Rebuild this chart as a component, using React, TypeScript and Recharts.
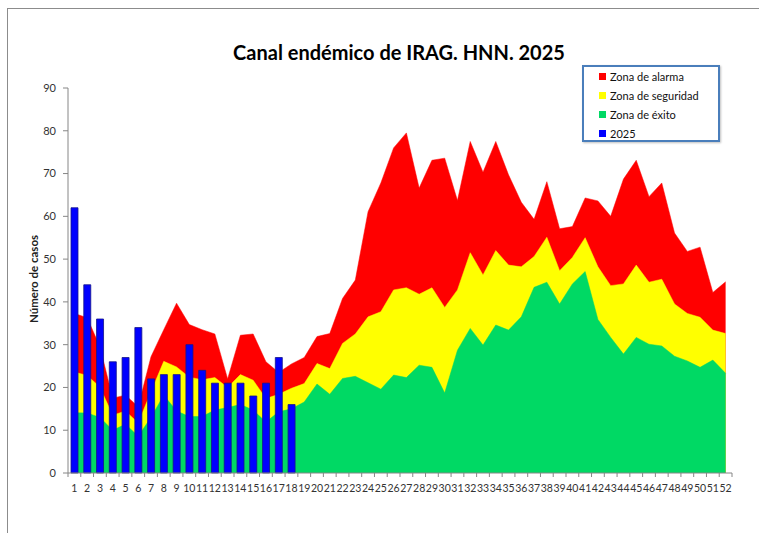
import { ComposedChart, Area, Bar, XAxis, YAxis } from 'recharts';

const semanas = [
  '1', '2', '3', '4', '5', '6', '7', '8', '9', '10', '11', '12', '13',
  '14', '15', '16', '17', '18', '19', '20', '21', '22', '23', '24', '25', '26',
  '27', '28', '29', '30', '31', '32', '33', '34', '35', '36', '37', '38', '39',
  '40', '41', '42', '43', '44', '45', '46', '47', '48', '49', '50', '51', '52',
];

// límite superior de cada zona (las áreas se superponen, no se apilan)
const alarma = [
  37.3, 36.3, 29.5, 17.5, 18.2, 15.5, 27.2, 33.5, 39.7, 34.7, 33.5, 32.5, 22.0,
  32.2, 32.5, 26.0, 23.5, 25.5, 27.0, 31.9, 32.6, 40.8, 45.1, 61.1, 67.8, 76.0,
  79.5, 66.6, 73.1, 73.6, 63.7, 77.5, 70.3, 77.5, 69.7, 63.3, 59.3, 68.1, 57.1,
  57.6, 64.3, 63.6, 60.0, 68.7, 73.1, 64.6, 67.8, 56.1, 51.8, 52.8, 42.2, 44.7,
];
const seguridad = [
  23.6, 22.8, 20.1, 13.5, 14.5, 11.7, 19.0, 26.1, 24.8, 22.4, 21.8, 22.3, 20.0,
  23.0, 21.7, 17.4, 18.4, 19.8, 20.9, 25.6, 24.4, 30.3, 32.5, 36.5, 37.7, 42.8,
  43.3, 41.8, 43.3, 38.7, 42.8, 51.5, 46.3, 52.0, 48.6, 48.2, 50.6, 55.1, 47.3,
  50.4, 55.0, 48.2, 43.8, 44.2, 48.6, 44.6, 45.3, 39.5, 37.3, 36.4, 33.4, 32.6,
];
const exito = [
  14.1, 14.0, 13.0, 10.0, 11.4, 8.6, 13.0, 18.2, 14.5, 13.2, 13.2, 14.7, 15.3,
  16.0, 14.7, 11.9, 14.3, 15.0, 16.6, 20.8, 18.4, 22.1, 22.6, 21.1, 19.6, 22.9,
  22.3, 25.2, 24.7, 18.7, 28.7, 33.8, 29.9, 34.6, 33.4, 36.5, 43.4, 44.6, 39.5,
  44.2, 47.1, 35.9, 31.7, 27.8, 31.7, 30.1, 29.7, 27.3, 26.2, 24.7, 26.4, 23.3,
];
const casos2025 = [62, 44, 36, 26, 27, 34, 22, 23, 23, 30, 24, 21, 21, 21, 18, 21, 27, 16];

const yTicks = [0, 10, 20, 30, 40, 50, 60, 70, 80, 90];

const data = semanas.map((s, i) => ({
  semana: s,
  alarma: alarma[i],
  seguridad: seguridad[i],
  exito: exito[i],
  casos: casos2025[i],
}));

const W = 759;
const H = 533;
const margin = { top: 88, right: 27, left: 0, bottom: 30 };
const Y_W = 68;
const BAND = (W - margin.left - margin.right - Y_W) / semanas.length;
const AXIS = '#868686';
const FONT = 'Lato, "Open Sans", sans-serif';

const XTick = (props: any) => {
  const { x, y, payload, index } = props;
  const half = BAND / 2;
  return (
    <g>
      {index === 0 && <line x1={x - half} x2={x - half} y1={y} y2={y + 4} stroke={AXIS} />}
      <line x1={x + half} x2={x + half} y1={y} y2={y + 4} stroke={AXIS} />
      <text x={x} y={y + 12} dy="0.71em" textAnchor="middle" fontSize={10.5} fill="#333">
        {payload.value}
      </text>
    </g>
  );
};

const legendItems = [
  { label: 'Zona de alarma', color: '#ff0000' },
  { label: 'Zona de seguridad', color: '#ffff00' },
  { label: 'Zona de éxito', color: '#00d964' },
  { label: '2025', color: '#0000ff' },
];

export default function App() {
  return (
    <div
      style={{
        position: 'absolute',
        left: 0,
        top: 0,
        width: W,
        height: H,
        overflow: 'hidden',
        background: '#fff',
        fontFamily: FONT,
      }}
    >
      <div
        style={{
          position: 'absolute',
          left: 7,
          top: 8,
          width: 780,
          height: 560,
          border: '1.5px solid #8c8c8c',
        }}
      />
      <div
        style={{
          position: 'absolute',
          left: 199,
          top: 41,
          width: 400,
          textAlign: 'center',
          fontSize: 20,
          lineHeight: '23px',
          fontWeight: 700,
          color: '#000',
        }}
      >
        Canal endémico de IRAG. HNN. 2025
      </div>
      <div
        style={{
          position: 'absolute',
          left: 33,
          top: 279,
          transform: 'translate(-50%, -50%) rotate(-90deg)',
          whiteSpace: 'nowrap',
          fontSize: 11.5,
          fontWeight: 700,
          color: '#222',
        }}
      >
        Número de casos
      </div>

      <div style={{ position: 'absolute', left: 0, top: 0 }}>
        <ComposedChart width={W} height={H} data={data} margin={margin} barSize={7}>
          <XAxis
            dataKey="semana"
            interval={0}
            height={30}
            tickSize={0}
            tickMargin={0}
            tickLine={false}
            tick={<XTick />}
            stroke={AXIS}
          />
          <YAxis
            width={Y_W}
            domain={[0, 90]}
            ticks={yTicks}
            tickSize={5}
            tickMargin={7}
            stroke={AXIS}
            tick={{ fontSize: 11, fill: '#333' }}
          />
          <Area
            type="linear"
            dataKey="alarma"
            stroke="#ff0000"
            strokeWidth={0.5}
            fill="#ff0000"
            fillOpacity={1}
            isAnimationActive={false}
          />
          <Area
            type="linear"
            dataKey="seguridad"
            stroke="#ffff00"
            strokeWidth={0.5}
            fill="#ffff00"
            fillOpacity={1}
            isAnimationActive={false}
          />
          <Area
            type="linear"
            dataKey="exito"
            stroke="#00d964"
            strokeWidth={0.5}
            fill="#00d964"
            fillOpacity={1}
            isAnimationActive={false}
          />
          <Bar dataKey="casos" fill="#0000ff" stroke="#14148a" strokeWidth={0.8} isAnimationActive={false} />
        </ComposedChart>
      </div>

      <div
        style={{
          position: 'absolute',
          left: 582,
          top: 65,
          width: 134,
          height: 73,
          border: '2.5px solid #4a7ebb',
          boxShadow: '1px 1px 2px rgba(0,0,0,0.25)',
          background: '#fff',
        }}
      >
        {legendItems.map((it) => (
          <div
            key={it.label}
            style={{ display: 'flex', alignItems: 'center', height: 19, paddingLeft: 15, fontSize: 11, color: '#111' }}
          >
            <span style={{ display: 'inline-block', width: 7, height: 7, background: it.color, marginRight: 4 }} />
            {it.label}
          </div>
        ))}
      </div>
    </div>
  );
}
